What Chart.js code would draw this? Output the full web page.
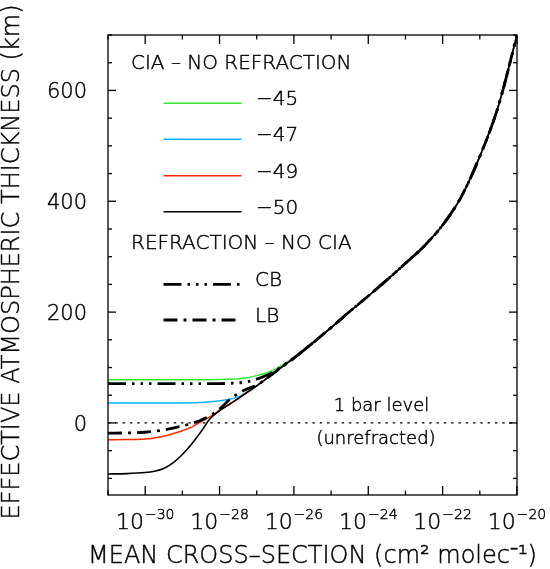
<!DOCTYPE html>
<html>
<head>
<meta charset="utf-8">
<script src="https://cdn.jsdelivr.net/npm/chart.js@4.4.0/dist/chart.umd.min.js"></script>
<style>
  html, body { margin: 0; padding: 0; background: #ffffff; }
  canvas { display: block; }
</style>
</head>
<body>
<canvas id="chart" width="550" height="569"></canvas>
<script>
// Mean cross-section grid (cm^2 molec^-1), log-spaced
const crossSection = [1e-31, 3.16e-31, 1e-30, 1.78e-30, 3.16e-30, 5.62e-30, 1e-29, 1.78e-29, 3.16e-29, 5.62e-29,
  1e-28, 1.78e-28, 3.16e-28, 5.62e-28, 1e-27, 1.78e-27, 3.16e-27, 5.62e-27, 1e-26, 3.16e-26,
  1e-25, 3.16e-25, 1e-24, 3.16e-24, 1e-23, 3.16e-23, 1e-22, 3.16e-22, 1e-21, 3.16e-21, 1e-20];

// Effective atmospheric thickness (km), CIA without refraction
const cia45 = [78, 78, 78, 78, 78, 78, 78, 78, 78, 78,
  78.3, 78.8, 79.6, 81.5, 85.5, 90, 97, 107, 118.5, 144,
  172, 201, 229, 258, 288, 319, 357, 408, 481, 572, 700];
const cia47 = [36, 36, 36, 36, 36, 36, 36, 36.3, 37, 38.3,
  40, 42.5, 47, 56, 67, 79.5, 92, 104.5, 117, 144,
  172, 201, 229, 258, 288, 319, 357, 408, 481, 572, 700];
const cia49 = [-30.3, -30, -29, -27, -24, -19.5, -14, -7.5, 2, 11.5,
  22.5, 33, 44, 55.5, 67, 79.5, 92, 104.5, 117, 144,
  172, 201, 229, 258, 288, 319, 357, 408, 481, 572, 700];
const cia50 = [-92, -91.5, -89.5, -87, -82, -72, -57, -38, -16, 8,
  22, 33, 44, 55.5, 67, 79.5, 92, 104.5, 117, 144,
  172, 201, 229, 258, 288, 319, 357, 408, 481, 572, 700];

// Refraction without CIA
const refractionCB = [71, 71, 71, 71, 71, 71, 71, 71, 71, 71,
  71, 71.5, 72.3, 74.5, 79, 85.5, 94, 105.5, 117, 144,
  172, 201, 229, 258, 288, 319, 357, 408, 481, 572, 700];
const refractionLB = [-18.4, -18, -16.8, -15, -12.8, -9.5, -5.5, -1, 5, 13,
  25, 41, 53, 61.5, 68, 79.5, 92, 104.5, 117, 144,
  172, 201, 229, 258, 288, 319, 357, 408, 481, 572, 700];

// 1 bar level (unrefracted)
const oneBarLevel = 0;

// Labels
const ciaLabels = ['\u221245', '\u221247', '\u221249', '\u221250'];
const refractionLabels = ['CB', 'LB'];
const xTickExponents = [-30, -28, -26, -24, -22, -20];
const yTickLabels = [0, 200, 400, 600];

const FONT = '"DejaVu Sans", sans-serif';
const W = '200 ';
const GREEN = 'rgb(50, 232, 50)';
const CYAN = 'rgb(0, 180, 255)';
const RED = 'rgb(255, 40, 0)';
const DASH_CB = [18, 6, 2.5, 6, 2.5, 6, 2.5, 6];
const DASH_LB = [14, 6, 3, 6];
const DOTTED = [2.5, 4.8];

const toPoints = (ys) => crossSection.map((s, i) => ({ x: s, y: ys[i] }));

const datasets = [
  { label: 'CIA \u221245', data: toPoints(cia45), borderColor: GREEN, borderWidth: 1.5, order: 6 },
  { label: 'CIA \u221247', data: toPoints(cia47), borderColor: CYAN, borderWidth: 1.5, order: 5 },
  { label: 'CIA \u221249', data: toPoints(cia49), borderColor: RED, borderWidth: 1.5, order: 4 },
  { label: 'CIA \u221250', data: toPoints(cia50), borderColor: '#000', borderWidth: 1.6, order: 1 },
  { label: 'CB', data: toPoints(refractionCB), borderColor: '#000', borderWidth: 2.8, borderDash: DASH_CB, order: 3 },
  { label: 'LB', data: toPoints(refractionLB), borderColor: '#000', borderWidth: 2.8, borderDash: DASH_LB, order: 2 },
  { label: '1 bar level', data: [{ x: crossSection[0], y: oneBarLevel }, { x: crossSection[crossSection.length - 1], y: oneBarLevel }],
    borderColor: '#000', borderWidth: 1.3, borderDash: DOTTED, cubicInterpolationMode: 'default', tension: 0, order: 7 }
];

// Axes box, inward ticks, tick labels, titles, legend and annotations
const framePlugin = {
  id: 'frame',
  afterDraw(chart) {
    const { ctx, chartArea: a, scales } = chart;
    const xs = scales.x, ys = scales.y;
    const seg = (x1, y1, x2, y2) => { ctx.beginPath(); ctx.moveTo(x1, y1); ctx.lineTo(x2, y2); ctx.stroke(); };
    // thin-stroked text: fill plus a light outline for weight
    const text = (s, x, y) => {
      ctx.fillText(s, x, y);
      ctx.save();
      ctx.setLineDash([]);
      ctx.strokeStyle = '#000';
      ctx.lineWidth = 0.45;
      ctx.strokeText(s, x, y);
      ctx.restore();
    };
    ctx.save();
    ctx.strokeStyle = '#000';
    ctx.fillStyle = '#000';
    ctx.lineWidth = 1.3;
    ctx.lineCap = 'butt';
    ctx.strokeRect(a.left, a.top, a.right - a.left, a.bottom - a.top);

    // x ticks: every decade, long on even exponents
    for (let e = -31; e <= -20; e++) {
      const px = xs.getPixelForValue(Math.pow(10, e));
      const len = (e % 2 === 0) ? 9 : 4.5;
      seg(px, a.bottom, px, a.bottom - len);
      seg(px, a.top, px, a.top + len);
    }
    // y ticks: every 50 km, long on labelled values
    for (let v = -100; v <= 700; v += 50) {
      const py = ys.getPixelForValue(v);
      const len = (v % 200 === 0) ? 8 : 4;
      seg(a.left, py, a.left + len, py);
      seg(a.right, py, a.right - len, py);
    }

    // y tick labels
    ctx.font = W + '21px ' + FONT;
    ctx.textAlign = 'right';
    ctx.textBaseline = 'alphabetic';
    yTickLabels.forEach(v => {
      const py = ys.getPixelForValue(v);
      text(String(v), a.left - 21, py + 7.7);
    });

    // x tick labels as 10 with raised exponent
    ctx.textAlign = 'left';
    xTickExponents.forEach(e => {
      const px = xs.getPixelForValue(Math.pow(10, e));
      const base = '10';
      const exp = '\u2212' + String(Math.abs(e));
      ctx.font = W + '22px ' + FONT;
      const w1 = ctx.measureText(base).width;
      ctx.font = W + '14px ' + FONT;
      const w2 = ctx.measureText(exp).width;
      const x0 = px - (w1 + 1 + w2) / 2;
      ctx.font = W + '22px ' + FONT;
      text(base, x0, a.bottom + 34);
      ctx.font = W + '14px ' + FONT;
      text(exp, x0 + w1 + 1, a.bottom + 24);
    });

    // axis titles
    ctx.font = W + '24px ' + FONT;
    ctx.textAlign = 'center';
    text('MEAN CROSS\u2013SECTION (cm\u00B2 molec\u207B\u00B9)', (a.left + a.right) / 2, 562.5);
    ctx.save();
    ctx.translate(18.5, (a.top + a.bottom) / 2 - 3);
    ctx.rotate(-Math.PI / 2);
    text('EFFECTIVE ATMOSPHERIC THICKNESS (km)', 0, 0);
    ctx.restore();

    // legend
    const lx0 = 163.5, lx1 = 241.5, tx = 256;
    ctx.font = W + '20px ' + FONT;
    ctx.textAlign = 'left';
    text('CIA \u2013 NO REFRACTION', 131, 68.5);
    const ciaSets = [0, 1, 2, 3];
    const ciaRows = [103.3, 139.3, 175.7, 211.7];
    ciaSets.forEach((di, i) => {
      const ds = chart.data.datasets[di];
      ctx.strokeStyle = ds.borderColor;
      ctx.lineWidth = ds.borderWidth;
      ctx.setLineDash([]);
      seg(lx0, ciaRows[i], lx1, ciaRows[i]);
      text(ciaLabels[i], tx, ciaRows[i] + 1.9);
    });
    text('REFRACTION \u2013 NO CIA', 131, 249.2);
    const refSets = [4, 5];
    const refRows = [284.3, 320];
    refSets.forEach((di, i) => {
      const ds = chart.data.datasets[di];
      ctx.strokeStyle = ds.borderColor;
      ctx.lineWidth = ds.borderWidth;
      ctx.setLineDash(ds.borderDash);
      seg(lx0, refRows[i], lx1, refRows[i]);
      ctx.setLineDash([]);
      text(refractionLabels[i], tx - 1, refRows[i] + 1.7);
    });

    // 1 bar level annotation
    const py0 = ys.getPixelForValue(oneBarLevel);
    ctx.font = W + '18px ' + FONT;
    ctx.textAlign = 'center';
    text('1 bar level', 381.5, py0 - 12);
    text('(unrefracted)', 376, py0 + 21.5);
    ctx.restore();
  }
};

new Chart(document.getElementById('chart').getContext('2d'), {
  type: 'line',
  data: { datasets },
  options: {
    responsive: false,
    animation: false,
    devicePixelRatio: 1,
    layout: { padding: { left: 108, right: 33, top: 35, bottom: 74 } },
    plugins: { legend: { display: false }, tooltip: { enabled: false } },
    elements: {
      point: { radius: 0 },
      line: { cubicInterpolationMode: 'monotone', borderCapStyle: 'butt', fill: false }
    },
    scales: {
      x: { type: 'logarithmic', min: 1e-31, max: 1e-20, display: false },
      y: { type: 'linear', min: -130, max: 700, display: false }
    }
  },
  plugins: [framePlugin]
});
</script>
</body>
</html>
